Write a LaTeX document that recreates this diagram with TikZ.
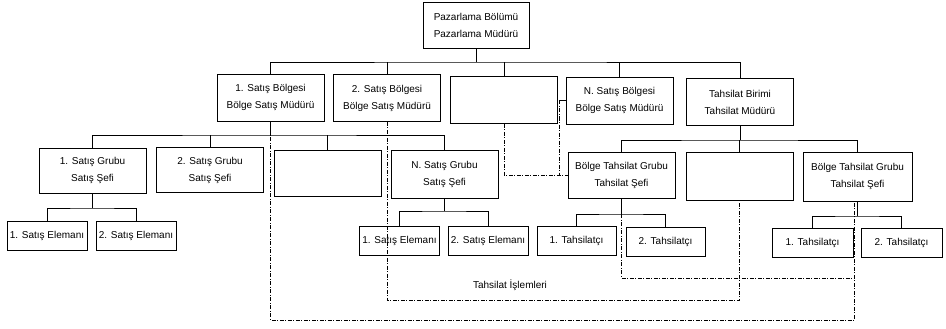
\documentclass[tikz,border=0pt]{standalone}
\usepackage{fontspec}
\setmainfont{Liberation Sans}
\begin{document}
\begin{tikzpicture}[x=1pt,y=-1pt,
  box/.style={draw, line width=0.9pt, align=center, inner sep=0pt,
    font=\fontsize{10}{17}\selectfont},
  lvl/.style={box, minimum width=107pt, minimum height=47pt},
  leaf/.style={box, minimum width=80pt, minimum height=29pt},
  conn/.style={line width=0.9pt},
  dashdot/.style={line width=0.6pt, dash pattern=on 4pt off 1.5pt on 1pt off 1.5pt}]
\useasboundingbox (0,0) rectangle (946,329);
% level 1
\node[box, minimum width=106pt, minimum height=46pt] (top) at (476,25) {Pazarlama Bölümü\\Pazarlama Müdürü};
% level 2
\node[lvl] (r1) at (270.5,97.5) {1. Satış Bölgesi\\Bölge Satış Müdürü};
\node[lvl] (r2) at (387,98) {2. Satış Bölgesi\\Bölge Satış Müdürü};
\node[lvl] (r3) at (504,100) {};
\node[lvl] (rN) at (619.5,100.5) {N. Satış Bölgesi\\Bölge Satış Müdürü};
\node[lvl] (tb) at (740,102) {Tahsilat Birimi\\Tahsilat Müdürü};
% level 3 sales
\node[lvl, minimum height=45pt] (g1) at (92.5,170.5) {1. Satış Grubu\\Satış Şefi};
\node[lvl, minimum height=45pt] (g2) at (210,170) {2. Satış Grubu\\Satış Şefi};
\node[lvl, minimum height=46pt] (g3) at (327.5,173) {};
\node[lvl, minimum height=48pt] (gN) at (444.5,174) {N. Satış Grubu\\Satış Şefi};
% level 3 collection
\node[lvl, minimum height=46pt] (t1) at (621.5,175) {Bölge Tahsilat Grubu\\Tahsilat Şefi};
\node[lvl, minimum height=48pt] (t2) at (739.5,176) {};
\node[lvl, minimum height=49pt, minimum width=109pt] (t3) at (857.5,176.5) {Bölge Tahsilat Grubu\\Tahsilat Şefi};
% level 4
\node[leaf] (e1) at (47,235.5) {1. Satış Elemanı};
\node[leaf] (e2) at (136,235.5) {2. Satış Elemanı};
\node[leaf] (e3) at (399.5,240.5) {1. Satış Elemanı};
\node[leaf] (e4) at (488,240.5) {2. Satış Elemanı};
\node[leaf, minimum width=79pt] (c1) at (576.5,241) {1. Tahsilatçı};
\node[leaf, minimum width=79pt] (c2) at (665.5,242) {2. Tahsilatçı};
\node[leaf, minimum width=81pt] (c3) at (812.5,242.5) {1. Tahsilatçı};
\node[leaf, minimum width=81pt] (c4) at (901.5,242.5) {2. Tahsilatçı};
% label
\node[font=\fontsize{10}{12}\selectfont] (lbl) at (510,285) {Tahsilat İşlemleri};
% bus coordinates
\coordinate (b1) at (476,62);
\coordinate (b2) at (270.5,135);
\coordinate (b3) at (740,140);
\coordinate (b4) at (92.5,208);
\coordinate (b5) at (444.5,211);
\coordinate (b6) at (621.5,214);
\coordinate (b7) at (857.5,216);
% solid connectors
\draw[conn] (top.south) -- (b1);
\draw[conn] (r1.north) |- (b1) -| (tb.north);
\draw[conn] (r2.north) -- (r2.north |- b1);
\draw[conn] (r3.north) -- (r3.north |- b1);
\draw[conn] (rN.north) -- (rN.north |- b1);
\draw[conn] (r1.south) -- (b2);
\draw[conn] (g1.north) |- (b2) -| (gN.north);
\draw[conn] (g2.north) -- (g2.north |- b2);
\draw[conn] (g3.north) -- (g3.north |- b2);
\draw[conn] (tb.south) -- (b3);
\draw[conn] (t1.north) |- (b3) -| (t3.north);
\draw[conn] (t2.north) -- (t2.north |- b3);
\draw[conn] (g1.south) -- (b4);
\draw[conn] (e1.north) |- (b4) -| (e2.north);
\draw[conn] (gN.south) -- (b5);
\draw[conn] (e3.north) |- (b5) -| (e4.north);
\draw[conn] (t1.south) -- (b6);
\draw[conn] (c1.north) |- (b6) -| (c2.north);
\draw[conn] (t3.south) -- (b7);
\draw[conn] (c3.north) |- (b7) -| (c4.north);
% dash-dot links
\coordinate (cA) at (854.5,320);
\coordinate (cB) at (739.5,300);
\coordinate (cC) at (854.5,278);
\coordinate (cE) at (559,100.5);
\draw[dashdot] (r1.south) |- (cA) -- (cA |- t3.south);
\draw[dashdot] (r2.south) |- (cB) -- (t2.south);
\draw[dashdot] (t1.south) |- (cC);
\draw[dashdot] (r3.south) |- (t1.west);
\draw[conn] (rN.west) -- (cE);
\draw[dashdot] (cE) -- (cE |- t1.west);
\end{tikzpicture}
\end{document}
